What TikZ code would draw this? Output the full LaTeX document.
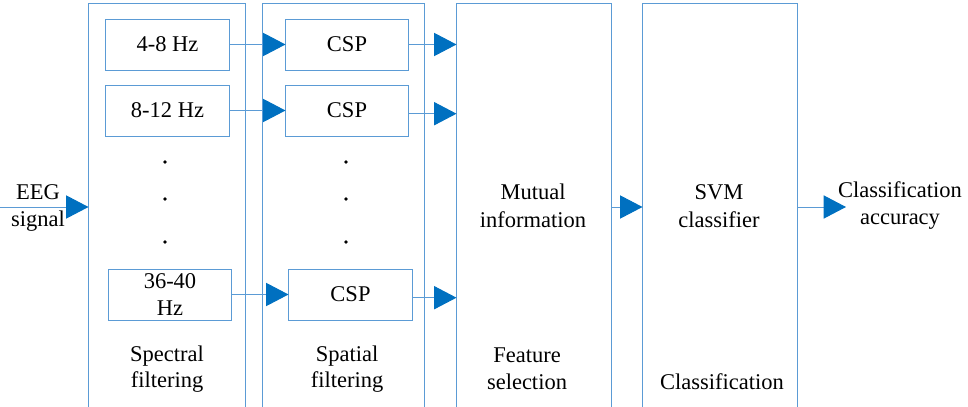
\documentclass[tikz,border=0pt]{standalone}
\usepackage{fontspec}
\setmainfont{Liberation Serif}
\usepackage{xcolor}
\usepackage{tikz}
\usetikzlibrary{arrows.meta, positioning}
\definecolor{lineblue}{RGB}{91, 155, 213}
\definecolor{tipblue}{RGB}{0, 112, 192}

\begin{document}
\begin{tikzpicture}[
  x=0.025cm, y=-0.025cm,
  every node/.style={font=\fontsize{16}{19.5}\selectfont},
  stage/.style={draw=lineblue, line width=0.7pt, inner sep=0pt,
                minimum height=10.2cm},
  band/.style={draw=lineblue, line width=0.7pt, inner sep=0pt,
               minimum height=1.275cm, align=center},
  lbl/.style={align=center, inner sep=0pt},
  dot/.style={circle, fill=black, inner sep=0pt, minimum size=0.09cm},
  arrow/.style={draw=lineblue, line width=0.7pt,
                -{Triangle[length=0.56cm, width=0.58cm, color=tipblue]}}
]
\clip (0,0) rectangle (968,407);

% ── Stages ───────────────────────────────────────────────────────────────────
\node[stage, minimum width=3.9cm]   (spec) at (167,208)   {};
\node[stage, minimum width=4.025cm] (spat) at (343.5,208) {};
\node[stage, minimum width=3.85cm]  (mi)   at (534,208)   {};
\node[stage, minimum width=3.85cm]  (svm)  at (720,208)   {};

% ── Band filters ─────────────────────────────────────────────────────────────
\node[band, minimum width=3.075cm] (b48)   at (167.5,44.5)  {4-8 Hz};
\node[band, minimum width=3.075cm] (b812)  at (167.5,110.5) {8-12 Hz};
\node[band, minimum width=3.05cm]  (b3640) at (170,294.5)   {36-40\\Hz};

% ── CSP blocks ───────────────────────────────────────────────────────────────
\node[band, minimum width=3.05cm]  (csp1) at (347,44.5)   {CSP};
\node[band, minimum width=3.05cm]  (csp2) at (347,110.5)  {CSP};
\node[band, minimum width=3.075cm] (csp3) at (350.5,294.5) {CSP};

% ── Dots ─────────────────────────────────────────────────────────────────────
\foreach \yy/\i in {162/1, 199/2, 242/3} {
  \node[dot] (sd\i) at (165,\yy) {};
  \node[dot] (pd\i) at (346,\yy) {};
}

% ── Labels ───────────────────────────────────────────────────────────────────
\node[lbl] (eeg)  at (38,208)  {EEG\\signal};
\node[lbl] (mit)  at (533,206) {Mutual\\information};
\node[lbl] (svmt) at (719,206) {SVM\\classifier};
\node[lbl] (acc)  at (900,205.5) {Classification\\accuracy};
\node[lbl, font=\fontsize{16}{18}\selectfont] (spect) at (167,369) {Spectral\\filtering};
\node[lbl, font=\fontsize{16}{18}\selectfont] (spatt) at (347,369) {Spatial\\filtering};
\node[lbl] (feat) at (527,368.5) {Feature\\selection};
\node[lbl] (clas) at (722,382)   {Classification};

\coordinate (in)  at (0,207);
\coordinate (out) at (846,207);

% ── Arrows ───────────────────────────────────────────────────────────────────
\draw[arrow] (in) -- (in -| spec.west);

\draw[arrow] (b48.east)   -- (csp1.west);
\draw[arrow] (b812.east)  -- (csp2.west);
\draw[arrow] (b3640.east) -- (csp3.west);

\draw[arrow] (csp1.east) -- (csp1.east -| mi.west);
\draw[arrow] ([yshift=-0.08cm]csp2.east) -- ([yshift=-0.08cm]csp2.east -| mi.west);
\draw[arrow] ([yshift=-0.08cm]csp3.east) -- ([yshift=-0.08cm]csp3.east -| mi.west);

\draw[arrow] (mi.east |- in) -- (svm.west |- in);
\draw[arrow] (svm.east |- out) -- (out);

\end{tikzpicture}
\end{document}
